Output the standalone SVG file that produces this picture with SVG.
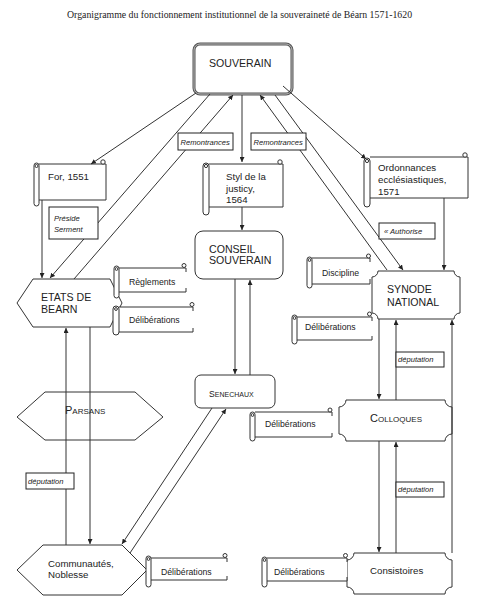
<svg xmlns="http://www.w3.org/2000/svg" width="499" height="609" viewBox="0 0 499 609">
<defs>
<marker id="ah" viewBox="0 0 8 8" refX="8" refY="4" markerWidth="5" markerHeight="5" orient="auto"><path d="M0,0 L8,4 L0,8 z" fill="#222"/></marker>
<style>
text{font-family:"Liberation Sans",Arial,sans-serif;fill:#222}
.title{font-family:"Liberation Serif","Times New Roman",serif;font-size:9.8px}
.n{fill:#fff;stroke:#333;stroke-width:1}
.big{font-size:10.6px}
.mid{font-size:9.7px}
.sm{font-size:8.7px}
.it{font-size:7.6px;font-style:italic}
.ln{stroke:#333;stroke-width:1;fill:none;marker-end:url(#ah)}
.lb{fill:#fff;stroke:#222;stroke-width:1}
.sb{fill:#fff;stroke:none}
.se{fill:none;stroke:#333;stroke-width:1}
.sr{fill:#fff;stroke:#333;stroke-width:1}
</style>
</defs>
<text class="title" x="67" y="18">Organigramme du fonctionnement institutionnel de la souveraineté de Béarn  1571-1620</text>

<g id="souverain">
<rect x="194" y="44" width="98" height="50" rx="6" fill="#fff" stroke="#555" stroke-width="3"/>
<rect x="194" y="44" width="98" height="50" rx="6" fill="none" stroke="#bbb" stroke-width="1"/>
<text class="big" x="209" y="67">SOUVERAIN</text>
</g>

<g id="for1551">
<rect class="sb" x="39" y="164" width="67" height="36"/>
<path class="se" d="M39,164 H106 V200 H39"/>
<rect class="sr" x="34" y="163" width="5" height="43" rx="2.5"/>
<circle class="se" cx="36.5" cy="166" r="1.5"/>
<circle class="sr" cx="103" cy="162" r="2.2"/>
<text class="mid" x="48" y="180">For, 1551</text>
</g>

<g id="styl">
<rect class="sb" x="209" y="164" width="74" height="43"/>
<path class="se" d="M209,164 H283 V207 H209"/>
<rect class="sr" x="203" y="163" width="6" height="52" rx="3"/>
<circle class="se" cx="206" cy="166" r="1.6"/>
<circle class="sr" cx="280" cy="162" r="2.2"/>
<text class="mid" x="226" y="180">Styl de la</text>
<text class="mid" x="226" y="191.5">justicy,</text>
<text class="mid" x="226" y="203">1564</text>
</g>

<g id="ordonnances">
<rect class="sb" x="370" y="157" width="98" height="41"/>
<path class="se" d="M370,157 H468 V198 H370"/>
<rect class="sr" x="364" y="158" width="6" height="49" rx="3"/>
<circle class="se" cx="367" cy="161" r="1.6"/>
<circle class="sr" cx="465" cy="155" r="2.2"/>
<text class="mid" x="378" y="171">Ordonnances</text>
<text class="mid" x="378" y="183">ecclésiastiques,</text>
<text class="mid" x="378" y="195">1571</text>
</g>

<g id="etats">
<polygon class="n" points="17,303 33,279 110,279 122,303 110,327 33,327"/>
<text class="big" x="41" y="301">ETATS DE</text>
<text class="big" x="41" y="313">BEARN</text>
</g>

<g id="reglements">
<rect class="sb" x="119" y="268" width="67" height="24"/>
<path class="se" d="M119,268 H186 V272 M186,288 V292 H119"/>
<rect class="sr" x="114" y="266" width="5" height="32" rx="2.5"/>
<circle class="se" cx="116.5" cy="269" r="1.4"/>
<circle class="sr" cx="184" cy="265.5" r="2"/>
<text class="sm" x="129" y="285">Règlements</text>
</g>

<g id="delib-etats">
<rect class="sb" x="119" y="307" width="74" height="25"/>
<path class="se" d="M119,307 H193 V311 M193,328 V332 H119"/>
<rect class="sr" x="113" y="306" width="6" height="29" rx="3"/>
<circle class="se" cx="116" cy="309" r="1.4"/>
<circle class="sr" cx="192" cy="304.5" r="2"/>
<text class="sm" x="129" y="323">Délibérations</text>
</g>

<g id="conseil">
<rect class="n" x="195" y="231" width="88" height="48" rx="8"/>
<text class="big" x="209" y="253">CONSEIL</text>
<text class="big" x="209" y="264">SOUVERAIN</text>
</g>

<g id="synode">
<path class="n" d="M378,271 H454 A6,6 0 0 0 460,277 V313 A6,6 0 0 0 454,319 H378 A6,6 0 0 0 372,313 V277 A6,6 0 0 0 378,271 Z"/>
<text class="big" x="387" y="293">SYNODE</text>
<text class="big" x="387" y="306">NATIONAL</text>
</g>

<g id="discipline">
<rect class="sb" x="312" y="258" width="58" height="26"/>
<path class="se" d="M312,258 H370 V262 M370,279 V284 H312"/>
<rect class="sr" x="307" y="257" width="5" height="31" rx="2.5"/>
<circle class="se" cx="309.5" cy="260" r="1.4"/>
<circle class="sr" cx="368.5" cy="256" r="2"/>
<text class="sm" x="322" y="276">Discipline</text>
</g>

<g id="delib-synode">
<rect class="sb" x="297" y="317" width="75" height="23"/>
<path class="se" d="M297,317 H372 V321 M372,336 V340 H297"/>
<rect class="sr" x="292" y="315" width="5" height="29" rx="2.5"/>
<circle class="se" cx="294.5" cy="318" r="1.4"/>
<circle class="sr" cx="369.5" cy="314" r="2"/>
<text class="sm" x="305" y="330">Délibérations</text>
</g>

<g id="parsans">
<polygon class="n" points="17,417 45,392 135,392 163,417 135,440 45,440"/>
<text x="65" y="414"><tspan font-size="11">P</tspan><tspan font-size="8">ARSANS</tspan></text>
</g>

<g id="senechaux">
<rect class="n" x="195" y="375" width="80" height="33" rx="6"/>
<text x="209" y="397"><tspan font-size="8.6">S</tspan><tspan font-size="7">ENECHAUX</tspan></text>
</g>

<g id="colloques">
<path class="n" d="M346,400 H445 A7,7 0 0 0 452,407 V434 A7,7 0 0 0 445,441 H346 A7,7 0 0 0 339,434 V407 A7,7 0 0 0 346,400 Z"/>
<text x="370" y="422"><tspan font-size="11">C</tspan><tspan font-size="8">OLLOQUES</tspan></text>
</g>

<g id="delib-colloques">
<rect class="sb" x="255" y="412" width="77" height="25"/>
<path class="se" d="M255,412 H332 V416 M332,433 V437 H255"/>
<rect class="sr" x="250" y="412" width="5" height="29" rx="2.5"/>
<circle class="se" cx="252.5" cy="415" r="1.4"/>
<circle class="sr" cx="330" cy="410" r="2"/>
<text class="sm" x="265" y="427">Délibérations</text>
</g>

<g id="communautes">
<polygon class="n" points="17,570 43,545 122,545 147,570 122,595 43,595"/>
<text class="mid" x="48" y="567">Communautés,</text>
<text class="mid" x="48" y="578">Noblesse</text>
</g>

<g id="delib-communautes">
<rect class="sb" x="151" y="558" width="76" height="22"/>
<path class="se" d="M151,558 H227 V562 M227,576 V580 H151"/>
<rect class="sr" x="146" y="556" width="5" height="31" rx="2.5"/>
<circle class="se" cx="148.5" cy="559" r="1.4"/>
<circle class="sr" cx="225" cy="555.5" r="2"/>
<text class="sm" x="161" y="575">Délibérations</text>
</g>

<g id="consistoires">
<path class="n" d="M354,553 H445 A7,7 0 0 0 452,560 V587 A7,7 0 0 0 445,594 H354 A7,7 0 0 0 347,587 V560 A7,7 0 0 0 354,553 Z"/>
<text class="mid" x="370" y="574">Consistoires</text>
</g>

<g id="delib-consistoires">
<rect class="sb" x="267" y="558" width="80" height="23"/>
<path class="se" d="M267,558 H347 V562 M347,577 V581 H267"/>
<rect class="sr" x="262" y="557" width="5" height="30" rx="2.5"/>
<circle class="se" cx="264.5" cy="560" r="1.4"/>
<circle class="sr" cx="345.5" cy="555.5" r="2"/>
<text class="sm" x="274" y="575">Délibérations</text>
</g>

<g id="connectors">
<line class="ln" x1="196" y1="93" x2="91" y2="164"/>
<line class="ln" x1="210" y1="94" x2="50" y2="278"/>
<line class="ln" x1="74" y1="279" x2="233" y2="95"/>
<line class="ln" x1="242" y1="95" x2="242" y2="162"/>
<line class="ln" x1="387" y1="270" x2="260" y2="95"/>
<line class="ln" x1="275" y1="95" x2="403" y2="270"/>
<line class="ln" x1="283" y1="86" x2="366" y2="159"/>
<line class="ln" x1="42" y1="200" x2="42" y2="278"/>
<line class="ln" x1="242" y1="207" x2="242" y2="230"/>
<line class="ln" x1="444" y1="198" x2="444" y2="270"/>
<line class="ln" x1="235" y1="279" x2="235" y2="374"/>
<line class="ln" x1="250" y1="375" x2="250" y2="280"/>
<line class="ln" x1="212" y1="408" x2="122" y2="544"/>
<line class="ln" x1="130" y1="553" x2="226" y2="409"/>
<line class="ln" x1="90" y1="327" x2="90" y2="544"/>
<line class="ln" x1="66" y1="545" x2="66" y2="328"/>
<line class="ln" x1="379" y1="319" x2="379" y2="399"/>
<line class="ln" x1="396" y1="400" x2="396" y2="320"/>
<line class="ln" x1="452" y1="553" x2="452" y2="320"/>
<line class="ln" x1="379" y1="441" x2="379" y2="552"/>
<line class="ln" x1="396" y1="553" x2="396" y2="442"/>
</g>

<g id="labels">
<rect class="lb" x="178" y="133" width="55" height="17"/>
<text class="it" x="180.5" y="144.5">Remontrances</text>
<rect class="lb" x="251" y="133" width="55" height="17"/>
<text class="it" x="253.5" y="144.5">Remontrances</text>
<rect class="lb" x="49" y="207" width="49" height="32"/>
<text class="it" x="54" y="221" font-size="8.2">Préside</text>
<text class="it" x="54" y="232" font-size="8.2">Serment</text>
<rect class="lb" x="379" y="223" width="56" height="16"/>
<text class="it" x="384" y="234" font-size="8">« Authorise</text>
<rect class="lb" x="26" y="473" width="48" height="16"/>
<text class="it" x="28" y="483.5">députation</text>
<rect class="lb" x="396" y="352" width="48" height="15"/>
<text class="it" x="398" y="362">députation</text>
<rect class="lb" x="396" y="482" width="48" height="15"/>
<text class="it" x="398" y="492">députation</text>
</g>
</svg>
